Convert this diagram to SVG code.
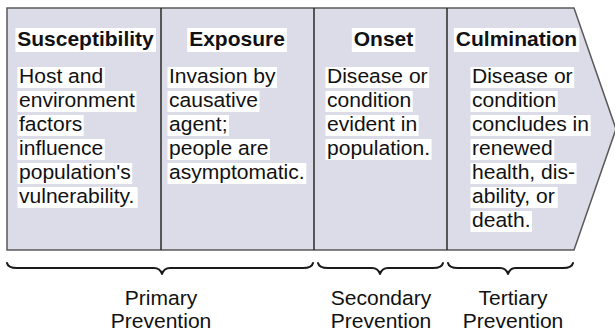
<svg xmlns="http://www.w3.org/2000/svg" width="615" height="335" viewBox="0 0 615 335">
  <style>
    .frame { fill: #dcdce8; stroke: #5a5a5a; stroke-width: 1.5; }
    .divider { stroke: #2a2a2a; stroke-width: 1.5; }
    .hl { fill: #ffffff; }
    .title { font-family: "Liberation Sans", Arial, Helvetica, sans-serif; font-size: 21px; font-weight: bold; fill: #111; text-anchor: middle; }
    .body { font-family: "Liberation Sans", Arial, Helvetica, sans-serif; font-size: 19.5px; fill: #111; }
    .label { font-family: "Liberation Sans", Arial, Helvetica, sans-serif; font-size: 19.5px; fill: #111; text-anchor: middle; }
    .brace { fill: none; stroke: #1a1a1a; stroke-width: 2; stroke-linejoin: round; stroke-linecap: round; }
  </style>

  <!-- arrow-shaped band holding the four stages -->
  <g id="band">
    <polygon class="frame" points="7,8 574,8 616,129 574,250 7,250"/>
    <line class="divider" x1="161" y1="8" x2="161" y2="250"/>
    <line class="divider" x1="314" y1="8" x2="314" y2="250"/>
    <line class="divider" x1="447" y1="8" x2="447" y2="250"/>
  </g>

  <!-- stage 1 -->
  <g id="susceptibility">
    <rect class="hl" x="15.5" y="28" width="140.5" height="24"/>
    <text class="title" x="85.5" y="46">Susceptibility</text>
    <g transform="translate(19,0) scale(1.08,1)">
      <rect class="hl" x="-1.4" y="67" width="80.8" height="21"/>
      <rect class="hl" x="-1.4" y="91" width="110.1" height="21"/>
      <rect class="hl" x="-1.4" y="115" width="61.3" height="21"/>
      <rect class="hl" x="-1.4" y="139" width="80.8" height="21"/>
      <rect class="hl" x="-1.4" y="163" width="106.2" height="21"/>
      <rect class="hl" x="-1.4" y="187" width="111.2" height="21"/>
      <text class="body" x="0" y="83">Host and</text>
      <text class="body" x="0" y="107">environment</text>
      <text class="body" x="0" y="131">factors</text>
      <text class="body" x="0" y="155">influence</text>
      <text class="body" x="0" y="179">population's</text>
      <text class="body" x="0" y="203">vulnerability.</text>
    </g>
  </g>

  <!-- stage 2 -->
  <g id="exposure">
    <rect class="hl" x="187.2" y="28" width="99.7" height="24"/>
    <text class="title" x="237" y="46">Exposure</text>
    <g transform="translate(169,0) scale(1.08,1)">
      <rect class="hl" x="-1.4" y="67" width="101.4" height="21"/>
      <rect class="hl" x="-1.4" y="91" width="85.2" height="21"/>
      <rect class="hl" x="-1.4" y="115" width="57" height="21"/>
      <rect class="hl" x="-1.4" y="139" width="94.9" height="21"/>
      <rect class="hl" x="-1.4" y="163" width="128.5" height="21"/>
      <text class="body" x="0" y="83">Invasion by</text>
      <text class="body" x="0" y="107">causative</text>
      <text class="body" x="0" y="131">agent;</text>
      <text class="body" x="0" y="155">people are</text>
      <text class="body" x="0" y="179">asymptomatic.</text>
    </g>
  </g>

  <!-- stage 3 -->
  <g id="onset">
    <rect class="hl" x="351.8" y="28" width="63.5" height="24"/>
    <text class="title" x="383.5" y="46">Onset</text>
    <g transform="translate(327,0) scale(1.08,1)">
      <rect class="hl" x="-1.4" y="67" width="96" height="21"/>
      <rect class="hl" x="-1.4" y="91" width="80.8" height="21"/>
      <rect class="hl" x="-1.4" y="115" width="86.3" height="21"/>
      <rect class="hl" x="-1.4" y="139" width="98.2" height="21"/>
      <text class="body" x="0" y="83">Disease or</text>
      <text class="body" x="0" y="107">condition</text>
      <text class="body" x="0" y="131">evident in</text>
      <text class="body" x="0" y="155">population.</text>
    </g>
  </g>

  <!-- stage 4 -->
  <g id="culmination">
    <rect class="hl" x="453.9" y="28" width="125.3" height="24"/>
    <text class="title" x="516.5" y="46">Culmination</text>
    <g transform="translate(472,0) scale(1.08,1)">
      <rect class="hl" x="-1.4" y="67" width="96" height="21"/>
      <rect class="hl" x="-1.4" y="91" width="80.8" height="21"/>
      <rect class="hl" x="-1.4" y="115" width="111.2" height="21"/>
      <rect class="hl" x="-1.4" y="139" width="77.6" height="21"/>
      <rect class="hl" x="-1.4" y="163" width="98.2" height="21"/>
      <rect class="hl" x="-1.4" y="187" width="80.8" height="21"/>
      <rect class="hl" x="-1.4" y="211" width="57" height="21"/>
      <text class="body" x="0" y="83">Disease or</text>
      <text class="body" x="0" y="107">condition</text>
      <text class="body" x="0" y="131">concludes in</text>
      <text class="body" x="0" y="155">renewed</text>
      <text class="body" x="0" y="179">health, dis-</text>
      <text class="body" x="0" y="203">ability, or</text>
      <text class="body" x="0" y="227">death.</text>
    </g>
  </g>

  <!-- braces grouping the stages by level of prevention -->
  <g id="braces">
    <path class="brace" d="M7,263 Q8,268 17,268 L154,268 Q160,268 162,274 Q164,268 170,268 L303,268 Q312,268 313,263"/>
    <path class="brace" d="M318,263 Q319,268 328,268 L372,268 Q378,268 380,274 Q382,268 388,268 L433,268 Q442,268 443,263"/>
    <path class="brace" d="M448,263 Q449,268 458,268 L500,268 Q506,268 508,274 Q510,268 516,268 L563,268 Q572,268 573,263"/>
  </g>

  <g id="primary">
    <g transform="translate(161,0) scale(1.08,1)">
      <text class="label" x="0" y="305">Primary</text>
      <text class="label" x="0" y="328">Prevention</text>
    </g>
  </g>
  <g id="secondary">
    <g transform="translate(381,0) scale(1.08,1)">
      <text class="label" x="0" y="305">Secondary</text>
      <text class="label" x="0" y="328">Prevention</text>
    </g>
  </g>
  <g id="tertiary">
    <g transform="translate(513,0) scale(1.08,1)">
      <text class="label" x="0" y="305">Tertiary</text>
      <text class="label" x="0" y="328">Prevention</text>
    </g>
  </g>
</svg>
